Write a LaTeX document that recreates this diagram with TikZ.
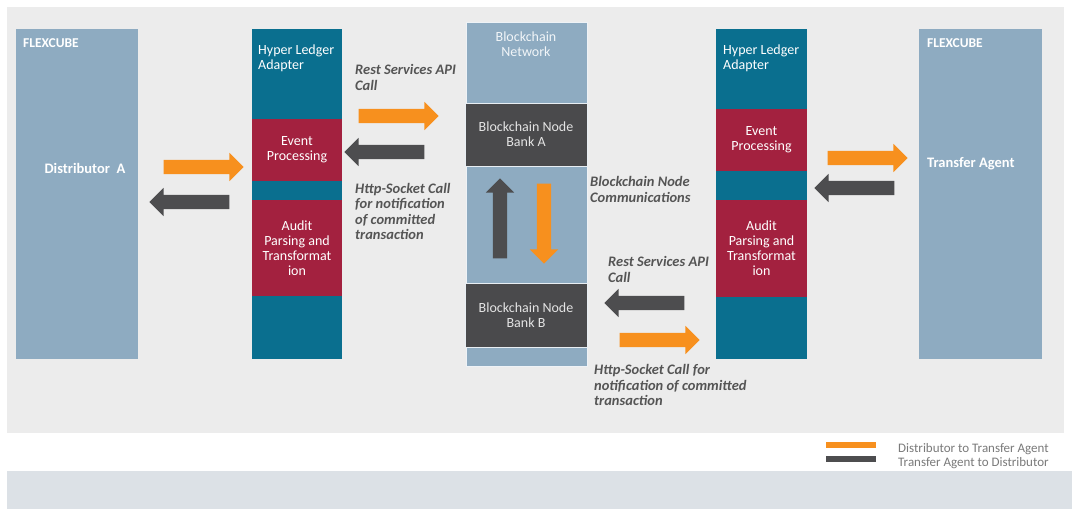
\documentclass[tikz,border=0pt]{standalone}
\usepackage{fontspec}
\setmainfont{Carlito}
\usetikzlibrary{shapes.arrows}
\definecolor{panel}{HTML}{ECECEC}
\definecolor{band}{HTML}{DCE1E6}
\definecolor{flex}{HTML}{8EABC1}
\definecolor{teal}{HTML}{0A6F8F}
\definecolor{crim}{HTML}{A3213F}
\definecolor{bnet}{HTML}{8EABC1}
\definecolor{bnode}{HTML}{4A4A4C}
\definecolor{orng}{HTML}{F7901E}
\definecolor{darr}{HTML}{4D4D4F}
\definecolor{lbl}{HTML}{555555}
\definecolor{leg}{HTML}{7A7A7A}
\tikzset{
  blk/.style={anchor=north west, inner sep=0pt, outer sep=0pt},
  boxtxt/.style={text=white, font=\fontsize{14}{15}\selectfont, align=center, inner sep=0pt},
  flextxt/.style={text=white, font=\bfseries\fontsize{13.5}{15}\selectfont, inner sep=0pt, anchor=north west},
  lab/.style={text=lbl, font=\bfseries\itshape\fontsize{14.5}{15.5}\selectfont, align=left, inner sep=0pt, anchor=north west},
  barrow/.style={single arrow, single arrow head extend=7pt, single arrow head indent=0pt, minimum height=80pt, inner sep=7pt, outer sep=0pt},
  oarr/.style={barrow, fill=orng},
  garr/.style={barrow, fill=darr},
}
\begin{document}
\begin{tikzpicture}[x=1pt,y=-1pt]
\useasboundingbox (0,0) rectangle (1072,509);
\fill[white] (0,0) rectangle (1072,509);
\fill[panel] (7,7) rectangle (1064,433);
\fill[band] (7,471) rectangle (1072,509);

% left FLEXCUBE
\node[blk, fill=flex, minimum width=122pt, minimum height=330pt] (flexA) at (16,29) {};
\node[flextxt] (flexAt) at (23,38) {FLEXCUBE};
\node[text=white, font=\bfseries\fontsize{14.5}{16}\selectfont, inner sep=0pt] (distA) at (85,168) {Distributor\ \ A};

% left Hyper Ledger adapter
\node[blk, fill=teal, minimum width=90pt, minimum height=330pt] (hlA) at (252,29) {};
\node[blk, fill=crim, minimum width=90pt, minimum height=62pt] (evA) at (252,119) {};
\node[blk, fill=crim, minimum width=90pt, minimum height=96pt] (auA) at (252,200) {};
\node[text=white, font=\fontsize{14}{14.5}\selectfont, align=left, inner sep=0pt, anchor=north west] (hlAt) at (258,45) {Hyper Ledger\\Adapter};
\node[boxtxt] (evAt) at (evA.center) {Event\\Processing};
\node[boxtxt] (auAt) at (auA.center) {Audit\\Parsing and\\Transformat\\ion};

% middle blockchain
\node[blk, fill=bnet, draw=white!85!bnet, line width=0.8pt, minimum width=121pt, minimum height=344pt] (bnet) at (466,22) {};
\node[text=white!88!bnet, font=\fontsize{14}{15}\selectfont, align=center, inner sep=0pt] (bnett) at (526,44) {Blockchain\\Network};
\node[blk, fill=bnode, draw=white!80!bnet, line width=0.8pt, minimum width=122pt, minimum height=63pt] (bankA) at (465,103) {};
\node[boxtxt, text=white!85!bnode] (bankAt) at (bankA.center) {Blockchain Node\\Bank A};
\node[blk, fill=bnode, draw=white!80!bnet, line width=0.8pt, minimum width=122pt, minimum height=64pt] (bankB) at (465,283) {};
\node[boxtxt, text=white!85!bnode] (bankBt) at (bankB.center) {Blockchain Node\\Bank B};

% right Hyper Ledger adapter
\node[blk, fill=teal, minimum width=91pt, minimum height=330pt] (hlB) at (716,29) {};
\node[blk, fill=crim, minimum width=91pt, minimum height=62pt] (evB) at (716,109) {};
\node[blk, fill=crim, minimum width=91pt, minimum height=97pt] (auB) at (716,200) {};
\node[text=white, font=\fontsize{14}{14.5}\selectfont, align=left, inner sep=0pt, anchor=north west] (hlBt) at (723,45) {Hyper Ledger\\Adapter};
\node[boxtxt] (evBt) at (evB.center) {Event\\Processing};
\node[boxtxt] (auBt) at (auB.center) {Audit\\Parsing and\\Transformat\\ion};

% right FLEXCUBE
\node[blk, fill=flex, minimum width=123pt, minimum height=330pt] (flexB) at (919,29) {};
\node[flextxt] (flexBt) at (927,38) {FLEXCUBE};
\node[text=white, font=\bfseries\fontsize{14.5}{16}\selectfont, inner sep=0pt, anchor=west] (ta) at (927,164) {Transfer Agent};

% arrows left
\node[oarr] (a1) at (200,167) {};
\node[garr, shape border rotate=180] (a2) at (193,202) {};
% arrows top-middle
\node[oarr] (a3) at (395,116) {};
\node[garr, shape border rotate=180] (a4) at (388,152) {};
% arrows vertical
\node[garr, shape border rotate=90] (a5) at (500,222) {};
\node[oarr, shape border rotate=270] (a6) at (544,220) {};
% arrows lower-middle
\node[garr, shape border rotate=180] (a7) at (648,303) {};
\node[oarr] (a8) at (656,340) {};
% arrows right
\node[oarr] (a9) at (864,158) {};
\node[garr, shape border rotate=180] (a10) at (858,188) {};

% labels
\node[lab] (l1) at (355,64.5) {Rest Services API\\Call};
\node[lab] (l2) at (355,183) {Http-Socket Call\\for notification\\of committed\\transaction};
\node[lab] (l3) at (590,176.5) {Blockchain Node\\Communications};
\node[lab] (l4) at (608,256.5) {Rest Services API\\Call};
\node[lab] (l5) at (594,364.5) {Http-Socket Call for\\notification of committed\\transaction};

% legend
\node[blk, fill=orng, minimum width=50pt, minimum height=6pt] (lego) at (826,442) {};
\node[blk, fill=darr, minimum width=50pt, minimum height=6pt] (legg) at (826,456) {};
\node[text=leg, font=\fontsize{13}{14}\selectfont, inner sep=0pt, anchor=west] (lt1) at (898,449) {Distributor to Transfer Agent};
\node[text=leg, font=\fontsize{13}{14}\selectfont, inner sep=0pt, anchor=west] (lt2) at (898,463) {Transfer Agent to Distributor};
\end{tikzpicture}
\end{document}
